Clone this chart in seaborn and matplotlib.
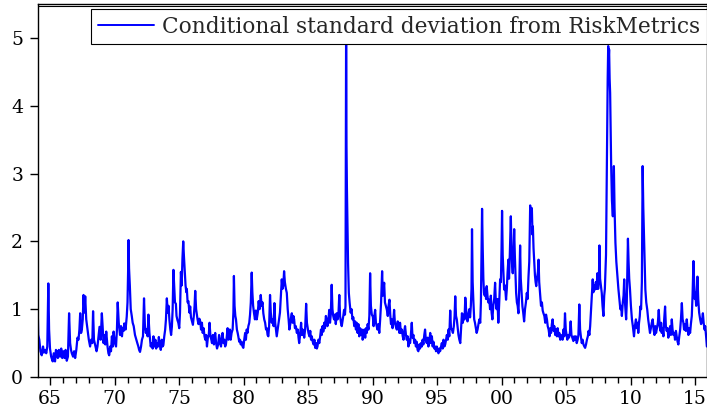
import matplotlib
matplotlib.use('Agg')
import matplotlib.pyplot as plt
from matplotlib.ticker import FixedLocator, MultipleLocator
import seaborn as sns
import pandas as pd

# (decimal year, conditional sd), one list per stretch
seg_1964 = [
    (1964.03, 1.06), (1964.08, 0.62), (1964.16, 0.55), (1964.25, 0.38), (1964.35, 0.32),
    (1964.45, 0.45), (1964.52, 0.36), (1964.61, 0.40), (1964.70, 0.35), (1964.78, 0.45),
    (1964.86, 1.38), (1964.92, 0.70), (1964.99, 0.42), (1965.08, 0.30), (1965.20, 0.23),
    (1965.28, 0.35), (1965.38, 0.23), (1965.45, 0.40), (1965.52, 0.38), (1965.60, 0.28),
    (1965.68, 0.40), (1965.77, 0.30), (1965.86, 0.42), (1965.94, 0.28), (1966.03, 0.38),
    (1966.12, 0.28), (1966.20, 0.40), (1966.29, 0.24), (1966.38, 0.30), (1966.47, 0.94),
    (1966.55, 0.50), (1966.62, 0.40), (1966.68, 0.35), (1966.78, 0.30), (1966.86, 0.38),
    (1966.94, 0.28), (1967.03, 0.40), (1967.12, 0.58), (1967.20, 0.55), (1967.27, 0.70),
    (1967.33, 0.94), (1967.40, 0.65), (1967.46, 0.70), (1967.53, 0.85), (1967.59, 1.21),
    (1967.66, 0.95), (1967.72, 1.19), (1967.80, 0.85), (1967.90, 0.70), (1968.00, 0.55),
    (1968.10, 0.45), (1968.18, 0.55), (1968.27, 0.50), (1968.33, 0.97), (1968.40, 0.55),
    (1968.52, 0.45), (1968.60, 0.38), (1968.67, 0.45), (1968.75, 0.60), (1968.83, 0.74),
    (1968.92, 0.55), (1969.01, 0.94), (1969.07, 0.75), (1969.14, 0.50), (1969.22, 0.62),
    (1969.28, 0.48), (1969.35, 0.67), (1969.45, 0.45), (1969.52, 0.35), (1969.58, 0.32),
    (1969.66, 0.45), (1969.72, 0.38), (1969.79, 0.60), (1969.86, 0.45), (1969.92, 0.67),
]
seg_1970 = [
    (1970.02, 0.50), (1970.11, 0.45), (1970.18, 0.70), (1970.24, 1.10), (1970.32, 0.80),
    (1970.42, 0.62), (1970.50, 0.75), (1970.57, 0.60), (1970.63, 0.72), (1970.70, 0.68),
    (1970.75, 0.79), (1970.85, 0.70), (1970.94, 0.89), (1971.00, 1.10), (1971.05, 1.60),
    (1971.08, 2.02), (1971.12, 1.60), (1971.18, 1.35), (1971.25, 1.00), (1971.33, 0.90),
    (1971.40, 0.80), (1971.48, 0.75), (1971.58, 0.62), (1971.68, 0.55), (1971.76, 0.50),
    (1971.84, 0.45), (1971.90, 0.40), (1971.97, 0.37), (1972.05, 0.45), (1972.12, 0.55),
    (1972.20, 0.60), (1972.28, 1.16), (1972.35, 0.75), (1972.42, 0.65), (1972.49, 0.70),
    (1972.56, 0.60), (1972.62, 0.92), (1972.70, 0.65), (1972.80, 0.45), (1972.88, 0.50),
    (1972.95, 0.42), (1973.01, 0.60), (1973.10, 0.45), (1973.16, 0.55), (1973.22, 0.42),
    (1973.30, 0.50), (1973.37, 0.45), (1973.43, 0.59), (1973.50, 0.48), (1973.58, 0.40),
    (1973.66, 0.55), (1973.72, 0.45), (1973.78, 0.47), (1973.85, 0.60), (1973.92, 0.70),
    (1973.98, 0.85), (1974.05, 1.16), (1974.12, 0.95), (1974.18, 1.05), (1974.25, 0.84),
    (1974.32, 0.70), (1974.38, 0.62), (1974.44, 0.74), (1974.50, 1.00), (1974.56, 1.58),
    (1974.62, 1.35), (1974.68, 1.10), (1974.75, 1.08), (1974.80, 0.90), (1974.87, 0.84),
    (1974.94, 0.80), (1975.01, 0.72), (1975.07, 0.95), (1975.14, 1.55), (1975.20, 1.35),
    (1975.26, 1.75), (1975.32, 2.00), (1975.37, 1.80), (1975.43, 1.60), (1975.50, 1.35),
    (1975.56, 1.25), (1975.60, 1.30), (1975.66, 1.10), (1975.72, 1.12), (1975.80, 0.95),
    (1975.86, 1.04), (1975.92, 0.88), (1976.00, 0.82), (1976.07, 0.77), (1976.14, 0.90),
    (1976.20, 1.05), (1976.25, 1.27), (1976.32, 1.00), (1976.38, 0.92), (1976.43, 0.85),
    (1976.50, 0.78), (1976.57, 0.86), (1976.64, 0.82), (1976.70, 0.70), (1976.77, 0.80),
    (1976.83, 0.65), (1976.90, 0.72), (1976.97, 0.60), (1977.03, 0.55), (1977.10, 0.62),
    (1977.16, 0.45), (1977.23, 0.58), (1977.30, 0.62), (1977.36, 0.80), (1977.43, 0.60),
    (1977.50, 0.55), (1977.55, 0.50), (1977.62, 0.62), (1977.70, 0.48), (1977.76, 0.60),
    (1977.80, 0.65), (1977.87, 0.50), (1977.94, 0.42),
]
seg_1978 = [
    (1978.03, 0.48), (1978.10, 0.62), (1978.18, 0.50), (1978.25, 0.45), (1978.31, 0.58),
    (1978.37, 0.65), (1978.44, 0.50), (1978.50, 0.55), (1978.57, 0.45), (1978.63, 0.48),
    (1978.70, 0.60), (1978.76, 0.72), (1978.83, 0.55), (1978.90, 0.62), (1978.94, 0.70),
    (1979.00, 0.55), (1979.07, 0.65), (1979.15, 0.70), (1979.21, 0.95), (1979.25, 1.49),
    (1979.30, 1.05), (1979.36, 0.90), (1979.41, 0.85), (1979.48, 0.70), (1979.54, 0.65),
    (1979.59, 0.60), (1979.66, 0.52), (1979.72, 0.55), (1979.78, 0.48), (1979.85, 0.52),
    (1979.92, 0.45), (1979.98, 0.43), (1980.05, 0.55), (1980.12, 0.65), (1980.18, 0.55),
    (1980.24, 0.70), (1980.30, 0.65), (1980.37, 0.75), (1980.44, 0.80), (1980.50, 0.92),
    (1980.56, 1.10), (1980.63, 1.54), (1980.68, 1.25), (1980.74, 1.05), (1980.81, 0.94),
    (1980.88, 0.85), (1980.95, 0.98), (1981.02, 0.85), (1981.10, 0.95), (1981.17, 1.12),
    (1981.24, 1.00), (1981.33, 1.21), (1981.40, 1.05), (1981.47, 1.10), (1981.53, 0.94),
    (1981.60, 0.85), (1981.67, 0.80), (1981.74, 0.70), (1981.80, 0.72), (1981.86, 0.62),
    (1981.92, 0.60), (1981.98, 0.75), (1982.05, 1.21), (1982.11, 0.95), (1982.18, 0.80),
    (1982.26, 0.85), (1982.33, 0.75), (1982.39, 1.09), (1982.45, 0.80), (1982.51, 0.70),
    (1982.57, 0.60), (1982.63, 0.68), (1982.69, 0.75), (1982.75, 0.85), (1982.82, 0.95),
    (1982.89, 1.20), (1982.96, 1.44), (1983.02, 1.30), (1983.08, 1.35), (1983.14, 1.56),
    (1983.20, 1.40), (1983.28, 1.30), (1983.35, 1.24), (1983.42, 1.00), (1983.49, 0.85),
    (1983.55, 0.70), (1983.62, 0.78), (1983.68, 0.88), (1983.74, 0.94), (1983.80, 0.80),
    (1983.86, 0.90), (1983.92, 0.85), (1983.98, 0.72), (1984.05, 0.75), (1984.13, 0.65),
    (1984.20, 0.70), (1984.26, 0.58), (1984.31, 0.50), (1984.38, 0.62), (1984.46, 0.80),
    (1984.52, 0.62), (1984.58, 0.70), (1984.64, 0.65), (1984.70, 0.58), (1984.77, 0.70),
    (1984.85, 1.08), (1984.91, 0.80), (1984.97, 0.72), (1985.03, 0.65), (1985.10, 0.60),
    (1985.17, 0.68), (1985.23, 0.55), (1985.29, 0.60), (1985.36, 0.52), (1985.43, 0.48),
    (1985.49, 0.55), (1985.55, 0.43), (1985.62, 0.50), (1985.68, 0.42), (1985.73, 0.45),
    (1985.80, 0.55), (1985.87, 0.50), (1985.94, 0.60),
]
seg_1986 = [
    (1986.00, 0.70), (1986.06, 0.62), (1986.12, 0.75), (1986.18, 0.67), (1986.25, 0.80),
    (1986.31, 0.72), (1986.38, 0.90), (1986.44, 0.85), (1986.50, 0.75), (1986.57, 0.82),
    (1986.64, 0.99), (1986.70, 0.80), (1986.76, 0.92), (1986.83, 1.36), (1986.89, 1.00),
    (1986.95, 0.90), (1987.01, 0.85), (1987.08, 0.92), (1987.15, 0.78), (1987.22, 0.94),
    (1987.29, 0.85), (1987.36, 0.95), (1987.42, 1.21), (1987.48, 0.90), (1987.55, 0.80),
    (1987.61, 0.75), (1987.67, 0.82), (1987.73, 0.90), (1987.79, 0.99), (1987.86, 0.92),
    (1987.90, 1.05), (1987.95, 5.20), (1987.98, 3.40), (1988.01, 2.81), (1988.05, 2.27),
    (1988.10, 1.68), (1988.16, 1.24), (1988.22, 1.10), (1988.30, 0.95), (1988.37, 1.00),
    (1988.44, 0.85), (1988.51, 0.88), (1988.58, 0.75), (1988.65, 0.82), (1988.71, 0.70),
    (1988.77, 0.80), (1988.84, 0.65), (1988.90, 0.78), (1988.97, 0.60), (1989.03, 0.72),
    (1989.10, 0.62), (1989.17, 0.70), (1989.23, 0.55), (1989.29, 0.60), (1989.36, 0.70),
    (1989.43, 0.58), (1989.49, 0.72), (1989.55, 0.65), (1989.62, 0.78), (1989.68, 0.70),
    (1989.75, 0.90), (1989.81, 1.53), (1989.87, 1.05), (1989.94, 0.92), (1990.02, 0.89),
    (1990.08, 0.75), (1990.14, 0.90), (1990.20, 0.99), (1990.26, 0.80), (1990.32, 0.75),
    (1990.38, 0.70), (1990.45, 0.78), (1990.52, 0.65), (1990.59, 0.85), (1990.66, 1.10),
    (1990.74, 1.56), (1990.80, 1.20), (1990.85, 1.30), (1990.90, 1.39), (1990.96, 1.10),
    (1991.03, 1.05), (1991.11, 0.99), (1991.18, 0.90), (1991.24, 1.05), (1991.31, 1.14),
    (1991.37, 0.92), (1991.43, 0.78), (1991.49, 0.85), (1991.55, 0.72), (1991.61, 0.82),
    (1991.67, 0.99), (1991.73, 0.80), (1991.80, 0.75), (1991.88, 0.70), (1991.95, 0.82),
]
seg_1992 = [
    (1992.02, 0.72), (1992.08, 0.65), (1992.13, 0.80), (1992.20, 0.65), (1992.27, 0.70),
    (1992.34, 0.60), (1992.40, 0.55), (1992.46, 0.68), (1992.52, 0.75), (1992.59, 0.62),
    (1992.65, 0.55), (1992.72, 0.60), (1992.78, 0.45), (1992.85, 0.55), (1992.91, 0.50),
    (1992.97, 0.62), (1993.04, 0.80), (1993.10, 0.58), (1993.17, 0.62), (1993.23, 0.50),
    (1993.30, 0.55), (1993.36, 0.45), (1993.42, 0.52), (1993.49, 0.40), (1993.55, 0.38),
    (1993.62, 0.48), (1993.68, 0.42), (1993.75, 0.50), (1993.82, 0.45), (1993.88, 0.55),
    (1993.94, 0.48), (1994.01, 0.62), (1994.07, 0.70), (1994.13, 0.55), (1994.20, 0.50),
    (1994.27, 0.58), (1994.33, 0.45), (1994.40, 0.52), (1994.47, 0.65), (1994.53, 0.50),
    (1994.60, 0.60), (1994.66, 0.45), (1994.72, 0.52), (1994.79, 0.42), (1994.85, 0.45),
    (1994.92, 0.38), (1994.98, 0.45), (1995.05, 0.40), (1995.11, 0.35), (1995.18, 0.42),
    (1995.24, 0.38), (1995.31, 0.45), (1995.37, 0.50), (1995.44, 0.42), (1995.50, 0.55),
    (1995.57, 0.45), (1995.63, 0.48), (1995.70, 0.55), (1995.76, 0.62), (1995.83, 0.55),
    (1995.89, 0.70), (1995.95, 0.60), (1996.02, 0.98), (1996.08, 0.72), (1996.15, 0.70),
    (1996.23, 0.65), (1996.30, 0.75), (1996.36, 0.90), (1996.41, 1.19), (1996.47, 0.90),
    (1996.53, 0.85), (1996.59, 0.75), (1996.66, 0.62), (1996.73, 0.55), (1996.80, 0.50),
    (1996.86, 0.70), (1996.93, 0.94), (1997.00, 0.80), (1997.07, 0.92), (1997.13, 0.85),
    (1997.19, 1.17), (1997.25, 1.00), (1997.31, 0.90), (1997.36, 0.82), (1997.43, 0.90),
    (1997.50, 1.00), (1997.56, 0.88), (1997.62, 1.05), (1997.67, 1.30), (1997.71, 2.18),
    (1997.76, 1.40), (1997.82, 1.10), (1997.88, 0.85), (1997.94, 0.80),
]
seg_1998 = [
    (1998.01, 0.72), (1998.07, 0.65), (1998.14, 0.70), (1998.21, 0.78), (1998.28, 0.85),
    (1998.35, 0.80), (1998.40, 1.10), (1998.45, 1.80), (1998.49, 2.48), (1998.54, 1.90),
    (1998.59, 1.45), (1998.64, 1.24), (1998.70, 1.20), (1998.75, 1.30), (1998.80, 1.15),
    (1998.85, 1.34), (1998.91, 1.20), (1998.97, 1.10), (1999.05, 1.14), (1999.11, 1.00),
    (1999.17, 1.20), (1999.23, 0.95), (1999.29, 0.85), (1999.36, 1.05), (1999.43, 1.15),
    (1999.50, 1.39), (1999.56, 1.10), (1999.62, 1.00), (1999.68, 1.15), (1999.75, 0.80),
    (1999.81, 1.05), (1999.89, 1.44), (1999.95, 1.40), (2000.00, 1.90), (2000.04, 2.45),
    (2000.09, 1.80), (2000.15, 1.50), (2000.20, 1.29), (2000.27, 1.35), (2000.35, 1.14),
    (2000.41, 1.30), (2000.47, 1.55), (2000.53, 1.73), (2000.58, 1.45), (2000.64, 1.80),
    (2000.68, 2.10), (2000.72, 2.37), (2000.77, 1.90), (2000.82, 1.65), (2000.87, 1.53),
    (2000.93, 1.85), (2000.98, 2.18), (2001.03, 1.80), (2001.08, 1.50), (2001.13, 1.24),
    (2001.19, 1.10), (2001.25, 1.05), (2001.31, 0.94), (2001.37, 1.30), (2001.44, 1.94),
    (2001.49, 1.45), (2001.55, 1.25), (2001.62, 1.04), (2001.68, 0.95), (2001.75, 0.82),
    (2001.82, 1.00), (2001.89, 1.10), (2001.96, 1.24), (2002.02, 1.15), (2002.09, 1.48),
    (2002.15, 1.70), (2002.22, 2.53), (2002.28, 2.30), (2002.35, 2.49), (2002.40, 2.10),
    (2002.43, 2.22), (2002.48, 1.90), (2002.53, 1.73), (2002.59, 1.50), (2002.64, 1.40),
    (2002.69, 1.34), (2002.75, 1.45), (2002.82, 1.55), (2002.87, 1.73), (2002.92, 1.40),
    (2003.00, 1.19), (2003.06, 1.05), (2003.13, 1.10), (2003.19, 0.98), (2003.25, 0.94),
    (2003.32, 0.90), (2003.39, 0.80), (2003.45, 0.92), (2003.52, 0.85), (2003.58, 0.75),
    (2003.65, 0.70), (2003.72, 0.60), (2003.78, 0.72), (2003.84, 0.65), (2003.90, 0.78),
]
seg_2004 = [
    (2003.96, 0.85), (2004.03, 0.68), (2004.09, 0.75), (2004.16, 0.62), (2004.22, 0.70),
    (2004.29, 0.60), (2004.35, 0.72), (2004.42, 0.60), (2004.48, 0.65), (2004.55, 0.55),
    (2004.60, 0.62), (2004.66, 0.60), (2004.73, 0.55), (2004.80, 0.70), (2004.86, 0.60),
    (2004.92, 0.94), (2004.98, 0.70), (2005.04, 0.62), (2005.10, 0.55), (2005.16, 0.62),
    (2005.23, 0.58), (2005.30, 0.65), (2005.36, 0.82), (2005.42, 0.62), (2005.49, 0.58),
    (2005.57, 0.53), (2005.63, 0.60), (2005.70, 0.55), (2005.76, 0.60), (2005.83, 0.50),
    (2005.90, 0.55), (2005.96, 0.62), (2006.03, 1.07), (2006.09, 0.70), (2006.15, 0.60),
    (2006.22, 0.50), (2006.29, 0.55), (2006.35, 0.48), (2006.42, 0.45), (2006.48, 0.43),
    (2006.55, 0.48), (2006.62, 0.55), (2006.69, 0.60), (2006.75, 0.68), (2006.81, 0.62),
    (2006.87, 0.75), (2006.93, 0.95), (2007.00, 1.20), (2007.07, 1.44), (2007.12, 1.25),
    (2007.18, 1.35), (2007.25, 1.29), (2007.31, 1.40), (2007.37, 1.30), (2007.43, 1.53),
    (2007.49, 1.30), (2007.55, 1.45), (2007.59, 1.94), (2007.64, 1.45), (2007.70, 1.35),
    (2007.77, 1.24), (2007.83, 1.05), (2007.90, 0.90), (2007.96, 1.20), (2008.01, 1.30),
    (2008.05, 1.53), (2008.10, 1.80), (2008.15, 2.80), (2008.19, 3.70), (2008.23, 4.40),
    (2008.27, 4.88), (2008.31, 4.70), (2008.34, 4.83), (2008.38, 4.40), (2008.42, 4.19),
    (2008.46, 3.70), (2008.50, 3.11), (2008.56, 2.60), (2008.63, 2.37), (2008.67, 2.70),
    (2008.71, 3.11), (2008.76, 2.50), (2008.83, 1.98), (2008.90, 1.70), (2008.99, 1.48),
    (2009.06, 1.30), (2009.14, 1.14), (2009.21, 1.00), (2009.27, 1.05), (2009.33, 0.90),
    (2009.40, 1.10), (2009.46, 1.20), (2009.51, 1.44), (2009.57, 1.10), (2009.62, 0.95),
    (2009.66, 0.85), (2009.71, 1.10), (2009.76, 1.60), (2009.80, 2.04), (2009.85, 1.70),
    (2009.90, 1.45),
]
seg_2010 = [
    (2009.96, 1.29), (2010.03, 1.05), (2010.11, 0.85), (2010.18, 0.75), (2010.27, 0.60),
    (2010.34, 0.75), (2010.42, 0.85), (2010.49, 0.72), (2010.56, 0.80), (2010.60, 0.65),
    (2010.66, 0.80), (2010.72, 0.90), (2010.76, 1.04), (2010.82, 1.00), (2010.88, 1.40),
    (2010.94, 3.11), (2010.99, 2.50), (2011.04, 2.12), (2011.10, 1.60), (2011.15, 1.29),
    (2011.22, 1.10), (2011.30, 0.99), (2011.37, 0.85), (2011.44, 0.75), (2011.51, 0.65),
    (2011.58, 0.72), (2011.65, 0.80), (2011.72, 0.85), (2011.79, 0.70), (2011.86, 0.62),
    (2011.92, 0.75), (2011.98, 0.65), (2012.05, 0.72), (2012.12, 0.80), (2012.19, 0.99),
    (2012.26, 0.75), (2012.32, 0.68), (2012.37, 0.80), (2012.42, 0.65), (2012.49, 0.72),
    (2012.55, 0.60), (2012.61, 0.85), (2012.68, 1.04), (2012.74, 0.75), (2012.80, 0.68),
    (2012.87, 0.72), (2012.93, 0.58), (2013.00, 0.65), (2013.07, 0.75), (2013.13, 0.62),
    (2013.20, 0.85), (2013.26, 0.70), (2013.32, 0.62), (2013.39, 0.65), (2013.45, 0.55),
    (2013.52, 0.68), (2013.58, 0.60), (2013.65, 0.52), (2013.71, 0.48), (2013.78, 0.60),
    (2013.85, 0.70), (2013.91, 0.85), (2013.98, 1.09), (2014.04, 0.85), (2014.10, 0.80),
    (2014.15, 0.70), (2014.22, 0.78), (2014.29, 0.68), (2014.36, 0.85), (2014.43, 0.70),
    (2014.49, 0.62), (2014.55, 0.72), (2014.62, 0.65), (2014.68, 0.78), (2014.75, 0.90),
    (2014.81, 1.20), (2014.88, 1.71), (2014.93, 1.40), (2014.98, 1.15), (2015.03, 1.24),
    (2015.09, 1.05), (2015.14, 1.25), (2015.19, 1.48), (2015.25, 1.15), (2015.32, 0.95),
    (2015.40, 0.85), (2015.47, 0.78), (2015.54, 0.82), (2015.61, 0.94), (2015.67, 0.80),
    (2015.74, 0.70), (2015.79, 0.75), (2015.86, 0.60), (2015.92, 0.45),
]
tick_years = [1965, 1970, 1975, 1980, 1985, 1990, 1995, 2000, 2005, 2010, 2015]
tick_labels = ['65', '70', '75', '80', '85', '90', '95', '00', '05', '10', '15']
y_ticks = [0, 1, 2, 3, 4, 5]

segments = [seg_1964, seg_1970, seg_1978, seg_1986, seg_1992, seg_1998, seg_2004, seg_2010]
df = pd.DataFrame([p for seg in segments for p in seg], columns=['year', 'sd'])

sns.set_style('ticks')
plt.rcParams['font.family'] = ['DejaVu Serif']

fig = plt.figure(figsize=(7.07, 4.11), dpi=100)
ax = fig.add_axes([0.0532, 0.0827, 0.9468, 0.9075])

sns.lineplot(data=df, x='year', y='sd', ax=ax, color='#0000ff', linewidth=1.6,
             label='Conditional standard deviation from RiskMetrics')

ax.set_xlim(1964.03, 2015.93)
ax.set_ylim(0, 5.5)
ax.xaxis.set_major_locator(FixedLocator(tick_years))
ax.set_xticklabels(tick_labels)
ax.xaxis.set_minor_locator(MultipleLocator(1))
ax.set_yticks(y_ticks)
ax.set_yticklabels([str(t) for t in y_ticks])

for s in ax.spines.values():
    s.set_color('black')
    s.set_linewidth(1.0)
# second rule just under the top frame line
ax.plot([0, 1], [0.995, 0.995], transform=ax.transAxes, color='black', lw=0.8)

ax.tick_params(axis='x', which='major', length=6, width=1, pad=3.5, labelsize=13.5, colors='black')
ax.tick_params(axis='x', which='minor', length=4, width=1, colors='black')
ax.tick_params(axis='y', length=5.5, width=1, pad=5, labelsize=13.5, colors='black')
ax.set_xlabel('')
ax.set_ylabel('')

leg = ax.legend(loc='upper right', bbox_to_anchor=(0.9993, 0.9866), borderaxespad=0,
                fontsize=15.6, frameon=True, fancybox=False, edgecolor='black',
                framealpha=1, handlelength=2.6, handletextpad=0.35, borderpad=0.3)
leg.get_frame().set_linewidth(0.8)
for line in leg.get_lines():
    line.set_linewidth(1.4)

fig.savefig('out.png', dpi=100)
